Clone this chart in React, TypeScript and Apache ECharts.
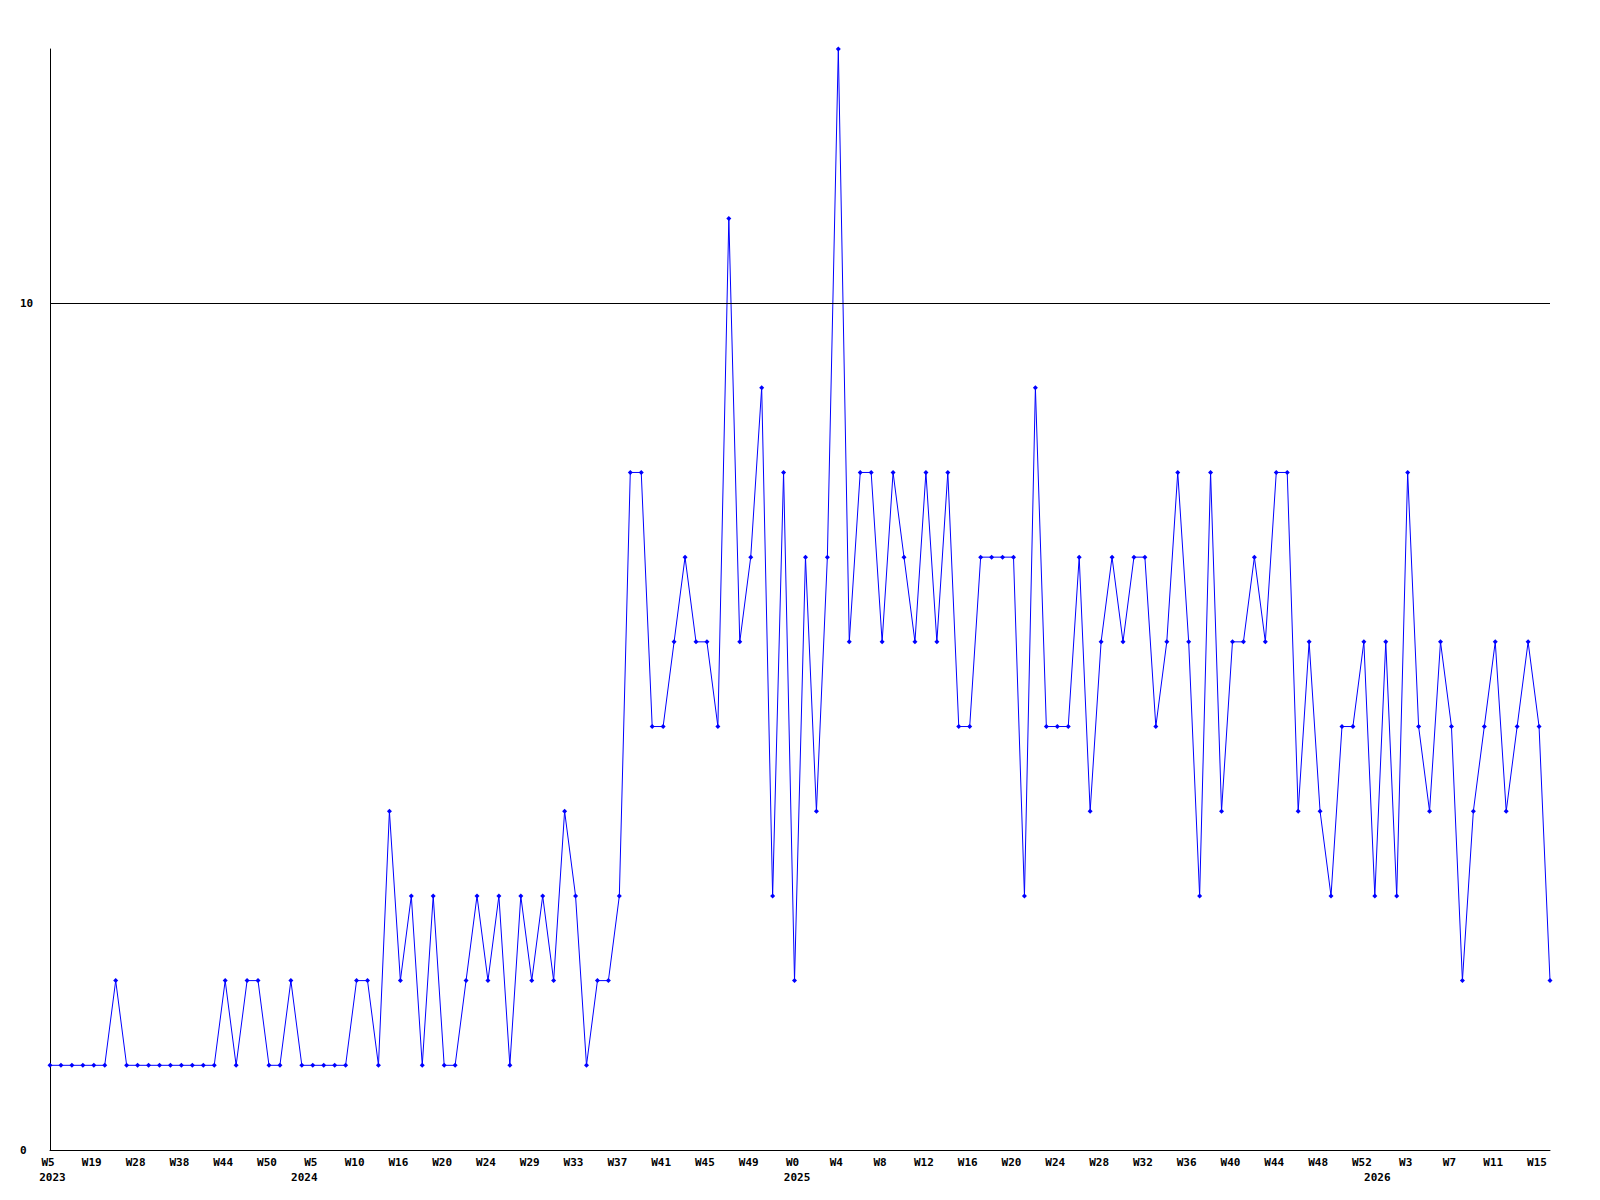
import React, { useEffect, useRef } from "react";
import * as echarts from "echarts";

const values: number[] = [
  1, 1, 1, 1, 1, 1, 2, 1, 1, 1, 1, 1, 1, 1, 1, 1, 2, 1, 2, 2,
  1, 1, 2, 1, 1, 1, 1, 1, 2, 2, 1, 4, 2, 3, 1, 3, 1, 1, 2, 3,
  2, 3, 1, 3, 2, 3, 2, 4, 3, 1, 2, 2, 3, 8, 8, 5, 5, 6, 7, 6,
  6, 5, 11, 6, 7, 9, 3, 8, 2, 7, 4, 7, 13, 6, 8, 8, 6, 8, 7, 6,
  8, 6, 8, 5, 5, 7, 7, 7, 7, 3, 9, 5, 5, 5, 7, 4, 6, 7, 6, 7,
  7, 5, 6, 8, 6, 3, 8, 4, 6, 6, 7, 6, 8, 8, 4, 6, 4, 3, 5, 5,
  6, 3, 6, 3, 8, 5, 4, 6, 5, 2, 4, 5, 6, 4, 5, 6, 5, 2,
];

// week tick labels, one on every 4th point
const weekLabels: string[] = [
  "W5", "W19", "W28", "W38", "W44", "W50",
  "W5", "W10", "W16", "W20", "W24", "W29", "W33", "W37", "W41", "W45", "W49",
  "W0", "W4", "W8", "W12", "W16", "W20", "W24", "W28", "W32", "W36", "W40", "W44", "W48", "W52",
  "W3", "W7", "W11", "W15",
];
const weekStep = 4;

// year labels at the first point of each year
const yearIndex: number[] = [0, 23, 68, 121];
const yearNames: string[] = ["2023", "2024", "2025", "2026"];

const yTickLabels: number[] = [0, 10];

export default function App() {
  const ref = useRef<HTMLDivElement>(null);

  useEffect(() => {
    document.body.style.margin = "0";
    const chart = echarts.init(ref.current!, null, { renderer: "svg" });
    const categories = values.map((_, i) => String(i));
    const font = "DejaVu Sans Mono";
    chart.setOption({
      animation: false,
      backgroundColor: "#ffffff",
      grid: { left: 50, right: 50, top: 49, bottom: 50, containLabel: false },
      xAxis: {
        type: "category",
        data: categories,
        boundaryGap: false,
        axisLine: { show: true, lineStyle: { color: "#000000", width: 1 } },
        axisTick: { show: false },
        splitLine: { show: false },
        axisLabel: {
          interval: 0,
          margin: 5,
          color: "#000000",
          fontFamily: font,
          fontWeight: "bold",
          fontSize: 11,
          lineHeight: 15,
          formatter: (_v: string, idx: number) => {
            const w = idx % weekStep === 0 ? weekLabels[idx / weekStep] : undefined;
            const yi = yearIndex.indexOf(idx);
            const y = yi >= 0 ? yearNames[yi] : undefined;
            if (!w && !y) return "";
            const line1 = w ? `{w|${w}}` : "{e| }";
            return y ? `${line1}\n{y|${y}}` : line1;
          },
          rich: {
            w: {
              fontFamily: font, fontWeight: "bold", fontSize: 11, lineHeight: 15,
              color: "#000000", padding: [0, 4, 0, 0],
            },
            y: {
              fontFamily: font, fontWeight: "bold", fontSize: 11, lineHeight: 15,
              color: "#000000", padding: [0, 0, 0, 5],
            },
            e: { fontFamily: font, fontSize: 11, lineHeight: 15 },
          },
        },
      },
      yAxis: {
        type: "value",
        min: 0,
        max: 13,
        interval: 10,
        axisLine: { show: true, lineStyle: { color: "#000000", width: 1 } },
        axisTick: { show: false },
        splitLine: { show: false },
        axisLabel: {
          align: "left",
          margin: 30,
          color: "#000000",
          fontFamily: font,
          fontWeight: "bold",
          fontSize: 11,
          showMaxLabel: false,
          formatter: (v: number) => (yTickLabels.indexOf(v) >= 0 ? String(v) : ""),
        },
      },
      series: [
        {
          type: "line",
          data: values,
          symbol: "diamond",
          symbolSize: 5,
          showAllSymbol: true,
          itemStyle: { color: "#0000ff" },
          lineStyle: { color: "#0000ff", width: 1 },
          markLine: {
            silent: true,
            symbol: "none",
            label: { show: false },
            lineStyle: { color: "#000000", width: 1, type: "solid" },
            data: [{ yAxis: 10 }],
          },
        },
      ],
    });
    return () => chart.dispose();
  }, []);

  return (
    <div
      ref={ref}
      style={{ position: "absolute", left: 0, top: 0, width: 1600, height: 1200, background: "#fff" }}
    />
  );
}
